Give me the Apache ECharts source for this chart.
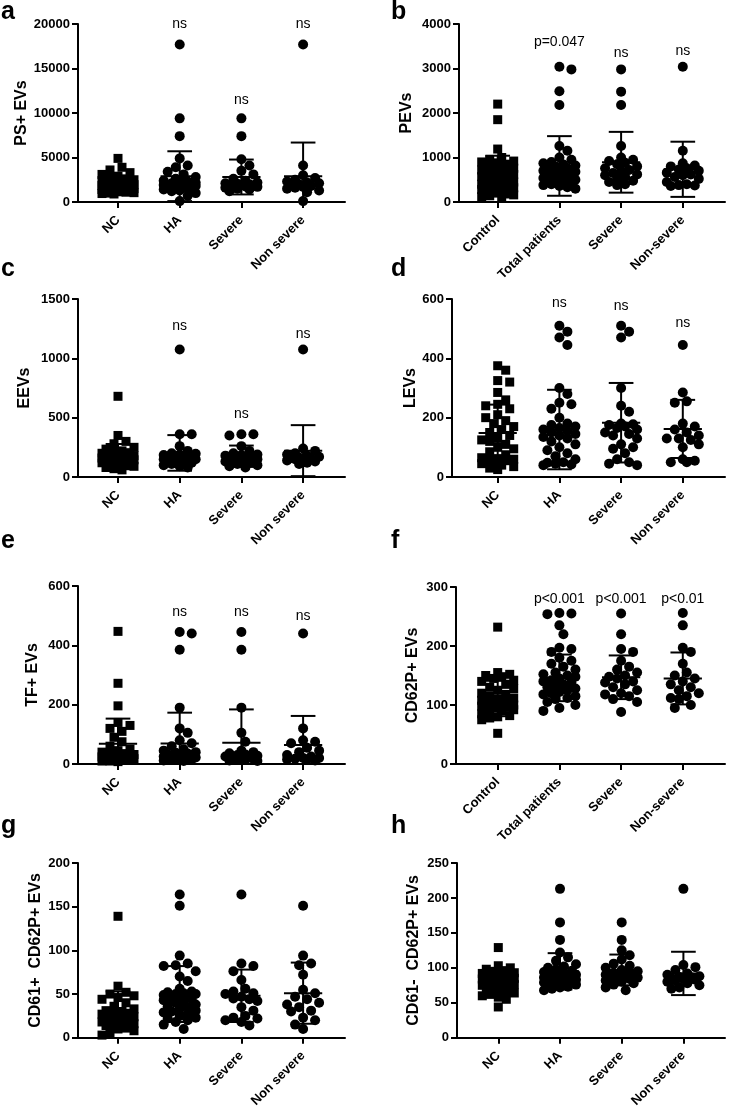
<!DOCTYPE html>
<html>
<head>
<meta charset="utf-8">
<script src="https://cdn.jsdelivr.net/npm/echarts@6/dist/echarts.min.js"></script>
<style>
html, body { margin: 0; padding: 0; background: #fff; }
#Chart { width: 729px; height: 1110px; }
</style>
</head>
<body>
<div id="Chart"></div>
<script>
// category labels
const catsNC = ["NC", "HA", "Severe", "Non severe"]
const catsCtrl = ["Control", "Total patients", "Severe", "Non-severe"]

// a: PS+ EVs
const psNC = [4900, 3900, 3600, 3300, 3100, 2900, 2800, 2600, 2500, 2400, 2300, 2200, 2150, 2100, 2050, 2000, 1950, 1900, 1850, 1800, 1750, 1700, 1650, 1600, 1550, 1500, 1450, 1400, 1350, 1300, 1250, 1200, 1150, 1100, 1050, 1000, 950, 900]
const psHA = [17700, 9400, 7400, 4900, 4100, 3900, 3400, 3100, 2800, 2600, 2400, 2300, 2200, 2150, 2100, 2050, 2000, 2000, 1950, 1900, 1900, 1850, 1800, 1800, 1750, 1700, 1650, 1600, 1500, 1400, 1300, 1200, 1000, 700, 100]
const psSevere = [9400, 7400, 4800, 4100, 3500, 3100, 2600, 2400, 2200, 2100, 2050, 2000, 1950, 1900, 1850, 1800, 1750, 1700, 1600, 1500, 1400, 1200]
const psNonSevere = [17700, 4100, 3000, 2700, 2500, 2300, 2200, 2100, 2000, 1900, 1800, 1700, 1600, 1500, 1300, 1100, 100]
const psMean = [2100, 2900, 2810, 2890]
const psSd = [750, 2800, 1960, 3790]
const psSig = ["", "ns", "ns", "ns"]
const psSigY = [0, 20000, 11450, 20000]

// b: PEVs
const peControl = [2200, 1850, 1190, 1000, 950, 920, 900, 880, 850, 800, 760, 720, 700, 680, 650, 620, 600, 570, 550, 520, 500, 480, 450, 420, 400, 380, 360, 340, 320, 300, 280, 260, 240, 220, 200, 180, 160, 140, 120, 100]
const peTotal = [3040, 2980, 2490, 2180, 1260, 1150, 1000, 950, 900, 870, 840, 820, 800, 780, 760, 740, 720, 700, 680, 660, 640, 620, 600, 580, 560, 540, 520, 500, 480, 460, 440, 420, 400, 380, 360, 330, 300]
const peSevere = [2980, 2480, 2180, 1260, 1000, 950, 920, 880, 850, 800, 760, 720, 700, 650, 620, 600, 560, 520, 480, 450, 400, 380]
const peNonSevere = [3040, 1150, 870, 820, 800, 760, 730, 700, 660, 620, 600, 560, 520, 450, 400, 380, 370, 360]
const peMean = [610, 810, 893, 735]
const peSd = [430, 670, 683, 620]
const peSig = ["", "p=0.047", "ns", "ns"]
const peSigY = [0, 3600, 3340, 3400]

// c: EEVs
const eeNC = [680, 350, 300, 280, 250, 235, 220, 210, 205, 200, 195, 190, 185, 180, 175, 170, 165, 160, 160, 155, 150, 150, 145, 140, 135, 130, 125, 120, 110, 100, 95, 90, 80, 70, 60]
const eeHA = [1075, 360, 360, 260, 220, 200, 195, 190, 185, 180, 175, 170, 165, 160, 160, 155, 150, 150, 145, 140, 135, 130, 120, 110, 100, 90, 80]
const eeSevere = [360, 360, 350, 260, 220, 200, 190, 185, 180, 170, 165, 160, 160, 150, 145, 140, 130, 120, 110, 100, 90, 80]
const eeNonSevere = [1075, 240, 220, 200, 190, 180, 170, 165, 160, 155, 150, 150, 140, 130, 120, 110]
const eeMean = [175, 203, 175, 222]
const eeSd = [103, 150, 90, 215]
const eeSig = ["", "ns", "ns", "ns"]
const eeSigY = [0, 1275, 533, 1200]

// d: LEVs
const leNC = [375, 360, 325, 320, 285, 260, 245, 240, 230, 210, 200, 190, 180, 170, 160, 150, 140, 130, 125, 120, 110, 100, 95, 85, 75, 65, 62, 60, 58, 55, 50, 45, 40, 35, 30, 25]
const leHA = [510, 490, 470, 445, 300, 280, 250, 245, 230, 200, 180, 175, 170, 165, 160, 155, 150, 145, 140, 135, 130, 120, 110, 100, 90, 80, 70, 60, 50, 48, 45, 42, 40]
const leSevere = [510, 490, 470, 300, 240, 220, 180, 178, 175, 170, 165, 160, 150, 145, 140, 130, 110, 100, 95, 80, 60, 50, 45, 40]
const leNonSevere = [445, 285, 255, 250, 180, 170, 160, 150, 140, 130, 130, 125, 110, 100, 60, 55, 50, 50]
const leMean = [148, 160, 183, 162]
const leSd = [96, 134, 134, 98]
const leSig = ["", "ns", "ns", "ns"]
const leSigY = [0, 586, 577, 519]

// e: TF+ EVs
const tfNC = [447, 272, 196, 140, 130, 120, 110, 90, 75, 60, 50, 45, 40, 38, 35, 32, 30, 28, 26, 25, 24, 22, 20, 20, 18, 16, 15, 14, 12, 10, 10, 8]
const tfHA = [445, 440, 385, 190, 120, 105, 80, 70, 60, 50, 45, 40, 38, 35, 32, 30, 28, 26, 25, 24, 22, 20, 20, 18, 16, 15, 14, 12, 10]
const tfSevere = [445, 385, 190, 105, 75, 45, 40, 36, 32, 30, 28, 25, 22, 20, 20, 18, 15, 14, 12, 10]
const tfNonSevere = [440, 120, 80, 75, 70, 55, 45, 40, 30, 25, 20, 20, 18, 15, 15, 12]
const tfMean = [68, 69, 72, 64]
const tfSd = [85, 104, 112, 98]
const tfSig = ["", "ns", "ns", "ns"]
const tfSigY = [0, 511, 511, 499]

// f: CD62P+ EVs
const cdControl = [232, 155, 152, 150, 148, 145, 142, 140, 135, 130, 128, 125, 120, 118, 115, 112, 110, 108, 105, 103, 100, 100, 98, 96, 95, 93, 92, 90, 88, 85, 82, 80, 78, 75, 52]
const cdTotal = [256, 255, 254, 235, 220, 197, 195, 190, 180, 175, 170, 165, 160, 155, 152, 150, 148, 145, 142, 140, 138, 135, 133, 130, 128, 125, 122, 120, 118, 115, 112, 110, 105, 100, 95, 90]
const cdSevere = [255, 220, 195, 190, 175, 165, 160, 155, 150, 148, 145, 140, 138, 135, 130, 125, 120, 118, 115, 110, 105, 88]
const cdNonSevere = [256, 235, 197, 190, 170, 155, 150, 145, 140, 135, 130, 125, 120, 115, 112, 110, 100, 95]
const cdMean = [111, 146, 147, 145]
const cdSd = [30, 39.5, 37, 44]
const cdSig = ["", "p<0.001", "p<0.001", "p<0.01"]
const cdSigY = [0, 280, 280, 280]

// g: CD61+ CD62P+ EVs
const posNC = [139, 59, 52, 50, 48, 46, 44, 40, 36, 33, 31, 30, 29, 28, 27, 26, 25, 25, 24, 23, 22, 21, 20, 20, 19, 18, 17, 16, 15, 14, 12, 10, 8, 6, 3]
const posHA = [164, 151, 94, 85, 83, 82, 76, 70, 65, 56, 53, 52, 51, 50, 50, 49, 48, 46, 45, 44, 43, 42, 40, 38, 36, 35, 33, 31, 30, 29, 27, 25, 23, 22, 20, 18, 15, 10]
const posSevere = [164, 85, 82, 76, 66, 56, 53, 51, 50, 47, 45, 44, 42, 35, 31, 25, 23, 22, 20, 18, 14]
const posNonSevere = [151, 94, 85, 83, 72, 55, 51, 47, 44, 40, 38, 35, 31, 30, 23, 20, 15, 10]
const posMean = [30, 50, 48, 51]
const posSd = [23, 32, 30, 35]

// h: CD61- CD62P+ EVs
const negNC = [129, 103, 100, 98, 96, 95, 93, 92, 90, 88, 87, 85, 84, 83, 82, 80, 80, 79, 78, 77, 76, 75, 74, 73, 72, 70, 68, 66, 64, 62, 60, 58, 55, 44]
const negHA = [213, 165, 140, 122, 115, 110, 105, 102, 100, 98, 96, 94, 92, 90, 90, 88, 87, 86, 85, 84, 83, 82, 81, 80, 80, 79, 78, 77, 76, 75, 73, 72, 70, 68]
const negSevere = [165, 140, 125, 118, 112, 106, 103, 100, 97, 95, 93, 92, 90, 88, 86, 85, 84, 82, 80, 78, 76, 72, 68]
const negNonSevere = [213, 104, 101, 97, 92, 90, 88, 87, 86, 85, 84, 83, 82, 80, 78, 75, 72, 70]
const negMean = [82, 95, 97, 92]
const negSd = [16, 26, 22, 31]

const FONT = "Arial, \"Liberation Sans\", Helvetica, sans-serif"
const STEP = 61.7 // px between group centres

const panels = [
  { letter: "a", title: "PS+ EVs", cats: catsNC, groups: [psNC, psHA, psSevere, psNonSevere], mean: psMean, sd: psSd, sig: psSig, sigY: psSigY, max: 20000, interval: 5000, left: 78, right: 345, top: 24, bottom: 202, c0: 118, nameGap: 48, lx: 1, ly: 21 },
  { letter: "b", title: "PEVs", cats: catsCtrl, groups: [peControl, peTotal, peSevere, peNonSevere], mean: peMean, sd: peSd, sig: peSig, sigY: peSigY, max: 4000, interval: 1000, left: 459, right: 725, top: 24, bottom: 202, c0: 497.7, nameGap: 44, lx: 391, ly: 21 },
  { letter: "c", title: "EEVs", cats: catsNC, groups: [eeNC, eeHA, eeSevere, eeNonSevere], mean: eeMean, sd: eeSd, sig: eeSig, sigY: eeSigY, max: 1500, interval: 500, left: 78, right: 345, top: 299, bottom: 477, c0: 118, nameGap: 45, lx: 1, ly: 278 },
  { letter: "d", title: "LEVs", cats: catsNC, groups: [leNC, leHA, leSevere, leNonSevere], mean: leMean, sd: leSd, sig: leSig, sigY: leSigY, max: 600, interval: 200, left: 452, right: 725, top: 299, bottom: 477, c0: 497.7, nameGap: 30, lx: 391, ly: 278 },
  { letter: "e", title: "TF+ EVs", cats: catsNC, groups: [tfNC, tfHA, tfSevere, tfNonSevere], mean: tfMean, sd: tfSd, sig: tfSig, sigY: tfSigY, max: 600, interval: 200, left: 78, right: 345, top: 586, bottom: 764, c0: 118, nameGap: 37, lx: 1, ly: 550 },
  { letter: "f", title: "CD62P+ EVs", cats: catsCtrl, groups: [cdControl, cdTotal, cdSevere, cdNonSevere], mean: cdMean, sd: cdSd, sig: cdSig, sigY: cdSigY, max: 300, interval: 100, left: 456, right: 725, top: 587, bottom: 764, c0: 497.7, nameGap: 35, lx: 391, ly: 550 },
  { letter: "g", title: "CD61+  CD62P+ EVs", cats: catsNC, groups: [posNC, posHA, posSevere, posNonSevere], mean: posMean, sd: posSd, sig: null, sigY: null, max: 200, interval: 50, left: 78, right: 345, top: 863, bottom: 1040, c0: 118, nameGap: 34, lx: 1, ly: 835 },
  { letter: "h", title: "CD61-  CD62P+ EVs", cats: catsNC, groups: [negNC, negHA, negSevere, negNonSevere], mean: negMean, sd: negSd, sig: null, sigY: null, max: 250, interval: 50, left: 457, right: 725, top: 863, bottom: 1041, c0: 498.3, nameGap: 35, lx: 391, ly: 835 }
]

// spread the dots of one group sideways so they do not sit on each other (px offsets)
function swarm(values, pxPerVal) {
  const cands = [0, 4, -4, 8, -8, 12, -12, 16, -16]
  const placed = []
  return values.map(v => {
    const y = v * pxPerVal
    let best = 0
    let bestD = -1
    for (const c of cands) {
      let d = Infinity
      placed.forEach(p => {
        d = Math.min(d, Math.hypot(c - p[0], y - p[1]))
      })
      if (d >= 9) { best = c; bestD = d; break }
      if (d > bestD) { bestD = d; best = c }
    }
    placed.push([best, y])
    return best
  })
}

function errorBar(params, api) {
  const g = api.value(0)
  const m = api.value(1)
  const s = api.value(2)
  const hi = m + s
  const lo = Math.max(0, m - s)
  const style = { stroke: "#000", lineWidth: 2 }
  const seg = (a, b) => ({ type: "line", shape: { x1: a[0], y1: a[1], x2: b[0], y2: b[1] }, style })
  const kids = [
    seg(api.coord([g - 0.31, m]), api.coord([g + 0.31, m])),
    seg(api.coord([g, lo]), api.coord([g, hi])),
    seg(api.coord([g - 0.2, hi]), api.coord([g + 0.2, hi]))
  ]
  if (m - s >= 0) kids.push(seg(api.coord([g - 0.2, lo]), api.coord([g + 0.2, lo])))
  return { type: "group", children: kids }
}

// significance text above a group
function sigText(params, api) {
  const pt = api.coord([api.value(0), api.value(1)])
  return {
    type: "text",
    x: pt[0],
    y: pt[1],
    style: { text: params.context.labels[params.dataIndex], fill: "#000", font: "14px " + FONT, textAlign: "center", textVerticalAlign: "middle" }
  }
}

const grid = []
const xAxis = []
const yAxis = []
const series = []
const graphic = []

panels.forEach((p, k) => {
  const h = p.bottom - p.top
  grid.push({ left: p.left, top: p.top, width: p.right - p.left, height: h })
  xAxis.push({
    type: "value",
    gridIndex: k,
    min: -(p.c0 - p.left) / STEP,
    max: (p.right - p.c0) / STEP,
    splitLine: { show: false },
    axisLine: { show: true, onZero: false, lineStyle: { color: "#000", width: 2 } },
    axisTick: { show: true, customValues: [0, 1, 2, 3], length: 6, lineStyle: { color: "#000", width: 2 } },
    axisLabel: {
      customValues: [0, 1, 2, 3],
      formatter: v => p.cats[Math.round(v)],
      rotate: 45,
      margin: 16,
      color: "#000",
      fontWeight: "bold",
      fontSize: 13,
      fontFamily: FONT
    }
  })
  yAxis.push({
    type: "value",
    gridIndex: k,
    min: 0,
    max: p.max,
    interval: p.interval,
    name: p.title,
    nameLocation: "middle",
    nameGap: p.nameGap,
    nameTextStyle: { color: "#000", fontWeight: "bold", fontSize: 16, fontFamily: FONT },
    splitLine: { show: false },
    axisLine: { show: true, onZero: false, lineStyle: { color: "#000", width: 2 } },
    axisTick: { show: true, length: 6, lineStyle: { color: "#000", width: 2 } },
    axisLabel: { formatter: v => String(v), margin: 8, color: "#000", fontWeight: "bold", fontSize: 13, fontFamily: FONT }
  })

  const pts = []
  p.groups.forEach((vals, g) => {
    const offs = swarm(vals, h / p.max)
    vals.forEach((v, j) => {
      pts.push({ value: [g + offs[j] / STEP, v], symbol: g === 0 ? "rect" : "circle", symbolSize: g === 0 ? 9 : 10 })
    })
  })
  series.push({ type: "scatter", xAxisIndex: k, yAxisIndex: k, data: pts, itemStyle: { color: "#000", opacity: 1 }, silent: true, z: 2 })
  series.push({
    type: "custom",
    xAxisIndex: k,
    yAxisIndex: k,
    data: p.mean.map((m, g) => [g, m, p.sd[g]]),
    renderItem: errorBar,
    silent: true,
    z: 3
  })
  if (p.sig) {
    const sigData = []
    const labels = []
    p.sig.forEach((t, g) => { if (t) { sigData.push([g, p.sigY[g]]); labels.push(t) } })
    series.push({
      type: "custom",
      xAxisIndex: k,
      yAxisIndex: k,
      data: sigData,
      clip: false,
      silent: true,
      z: 4,
      renderItem: (params, api) => {
        params.context.labels = labels
        return sigText(params, api)
      }
    })
  }
  graphic.push({
    type: "text",
    x: p.lx,
    y: p.ly - 9,
    style: { text: p.letter, font: "bold 25px " + FONT, fill: "#000", textVerticalAlign: "middle" }
  })
})

const chart = echarts.init(document.getElementById("Chart"), null, { renderer: "canvas" })
chart.setOption({
  animation: false,
  backgroundColor: "#fff",
  textStyle: { fontFamily: FONT },
  grid,
  xAxis,
  yAxis,
  series,
  graphic
})
</script>
</body>
</html>
